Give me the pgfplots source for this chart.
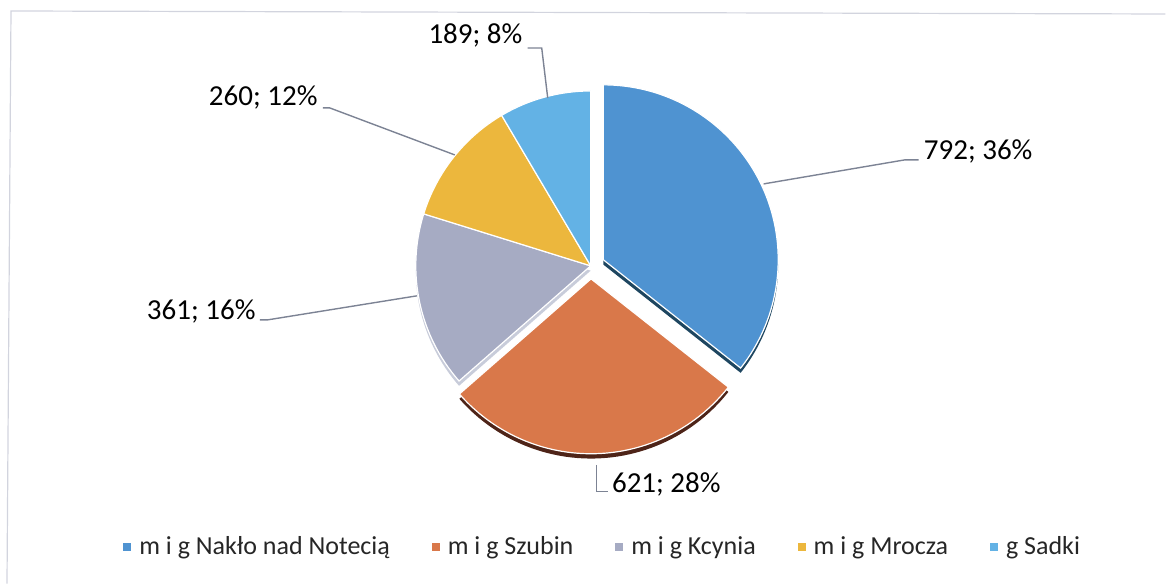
\documentclass[border=0pt]{standalone}
\usepackage{fontspec}
\setmainfont{Carlito}
\usepackage{pgfplots}
\usepackage{pgfplotstable}
\pgfplotsset{compat=1.18}

\definecolor{slice0}{HTML}{4F93D1}
\definecolor{slice1}{HTML}{D9784A}
\definecolor{slice2}{HTML}{A6ABC3}
\definecolor{slice3}{HTML}{ECB73D}
\definecolor{slice4}{HTML}{63B2E5}
\definecolor{shade0}{HTML}{1E4660}
\definecolor{shade1}{HTML}{4E2418}
\definecolor{shade2}{HTML}{C8CCDA}
\definecolor{leader}{HTML}{7C8394}
\definecolor{frame}{HTML}{D2D4DE}

% values per slice, explode offset in pt
\pgfplotstableread{
idx value explode
0   792   7
1   621   6.5
2   361   0
3   260   0
4   189   0
}\piedata

\newcommand\lab{\fontsize{14.5}{17}\selectfont}
\newcommand\legsq[1]{\addlegendimage{legend image code/.code={%
  \fill[#1] (0pt,-1.6pt) rectangle (3.4pt,1.8pt); \path (5.6pt,0pt);}}}

\begin{document}
\begin{tikzpicture}
% running sums -> slice angles (clockwise from 12 o'clock)
\def\cum{0}
\foreach \i in {0,...,4}{
  \pgfplotstablegetelem{\i}{value}\of\piedata
  \pgfmathsetmacro\b{\cum+\pgfplotsretval}
  \expandafter\xdef\csname cumA\i\endcsname{\cum}
  \expandafter\xdef\csname cumB\i\endcsname{\b}
  \pgfplotstablegetelem{\i}{explode}\of\piedata
  \expandafter\xdef\csname expl\i\endcsname{\pgfplotsretval}
  \xdef\cum{\b}
}
\xdef\total{\cum}
\foreach \i in {0,...,4}{
  \pgfmathsetmacro\s{90-(\csname cumA\i\endcsname/\total)*360}
  \pgfmathsetmacro\e{90-(\csname cumB\i\endcsname/\total)*360}
  \pgfmathsetmacro\m{(\s+\e)/2}
  \expandafter\xdef\csname sa\i\endcsname{\s}
  \expandafter\xdef\csname ea\i\endcsname{\e}
  \expandafter\xdef\csname ma\i\endcsname{\m}
}

\begin{axis}[
    x=0.5pt, y=0.5pt,
    xmin=0, xmax=1166, ymin=0, ymax=584,
    hide axis,
    clip=false,
    legend columns=5,
    legend style={
        at={(0.518,0.063)},
        anchor=center,
        draw=none,
        fill=none,
        font=\fontsize{13}{15}\selectfont,
        text=black!85,
        /tikz/every even column/.append style={column sep=19pt}
    },
]
\path (axis cs:0,0) rectangle (axis cs:1166,584);
\draw[frame, line width=0.6pt] (axis cs:7,0) -- (axis cs:11,573) -- (axis cs:1166,570);

% 3d-ish edges under the first slices
\pgfplotsinvokeforeach{0,1,2}{
  \edef\temp{\noexpand\fill[shade#1, yshift=-2.4pt]
    (axis cs:591,318) ++(\csname ma#1\endcsname:\csname expl#1\endcsname pt)
    -- ++(\csname sa#1\endcsname:87.5pt)
    arc[start angle=\csname sa#1\endcsname, end angle=\csname ea#1\endcsname, radius=87.5pt]
    -- cycle;}
  \temp
}
\pgfplotsinvokeforeach{0,...,4}{
  \edef\temp{\noexpand\fill[slice#1, draw=white, line width=0.6pt]
    (axis cs:591,318) ++(\csname ma#1\endcsname:\csname expl#1\endcsname pt)
    -- ++(\csname sa#1\endcsname:87.5pt)
    arc[start angle=\csname sa#1\endcsname, end angle=\csname ea#1\endcsname, radius=87.5pt]
    -- cycle;}
  \temp
}

% data labels with leader lines
\draw[leader, line width=0.7pt] (axis cs:919,424) -- (axis cs:905,424) -- (axis cs:764,400);
\draw[leader, line width=0.7pt] (axis cs:597,119) -- (axis cs:597,92) -- (axis cs:608,92);
\draw[leader, line width=0.7pt] (axis cs:260,264) -- (axis cs:268,264) -- (axis cs:417,288);
\draw[leader, line width=0.7pt] (axis cs:323,476) -- (axis cs:330,476) -- (axis cs:455,429);
\draw[leader, line width=0.7pt] (axis cs:528,536) -- (axis cs:542,536) -- (axis cs:548,486);
\node[anchor=west, inner sep=0pt, font=\lab] at (axis cs:924,432) {792; 36\%};
\node[anchor=west, inner sep=0pt, font=\lab] at (axis cs:612,99) {621; 28\%};
\node[anchor=east, inner sep=0pt, font=\lab] at (axis cs:256,272) {361; 16\%};
\node[anchor=east, inner sep=0pt, font=\lab] at (axis cs:318,486) {260; 12\%};
\node[anchor=east, inner sep=0pt, font=\lab] at (axis cs:523,549) {189; 8\%};

\legsq{slice0}
\addlegendentry{m i g Nakło nad Notecią}
\legsq{slice1}
\addlegendentry{m i g Szubin}
\legsq{slice2}
\addlegendentry{m i g Kcynia}
\legsq{slice3}
\addlegendentry{m i g Mrocza}
\legsq{slice4}
\addlegendentry{g Sadki}
\end{axis}
\end{tikzpicture}
\end{document}
